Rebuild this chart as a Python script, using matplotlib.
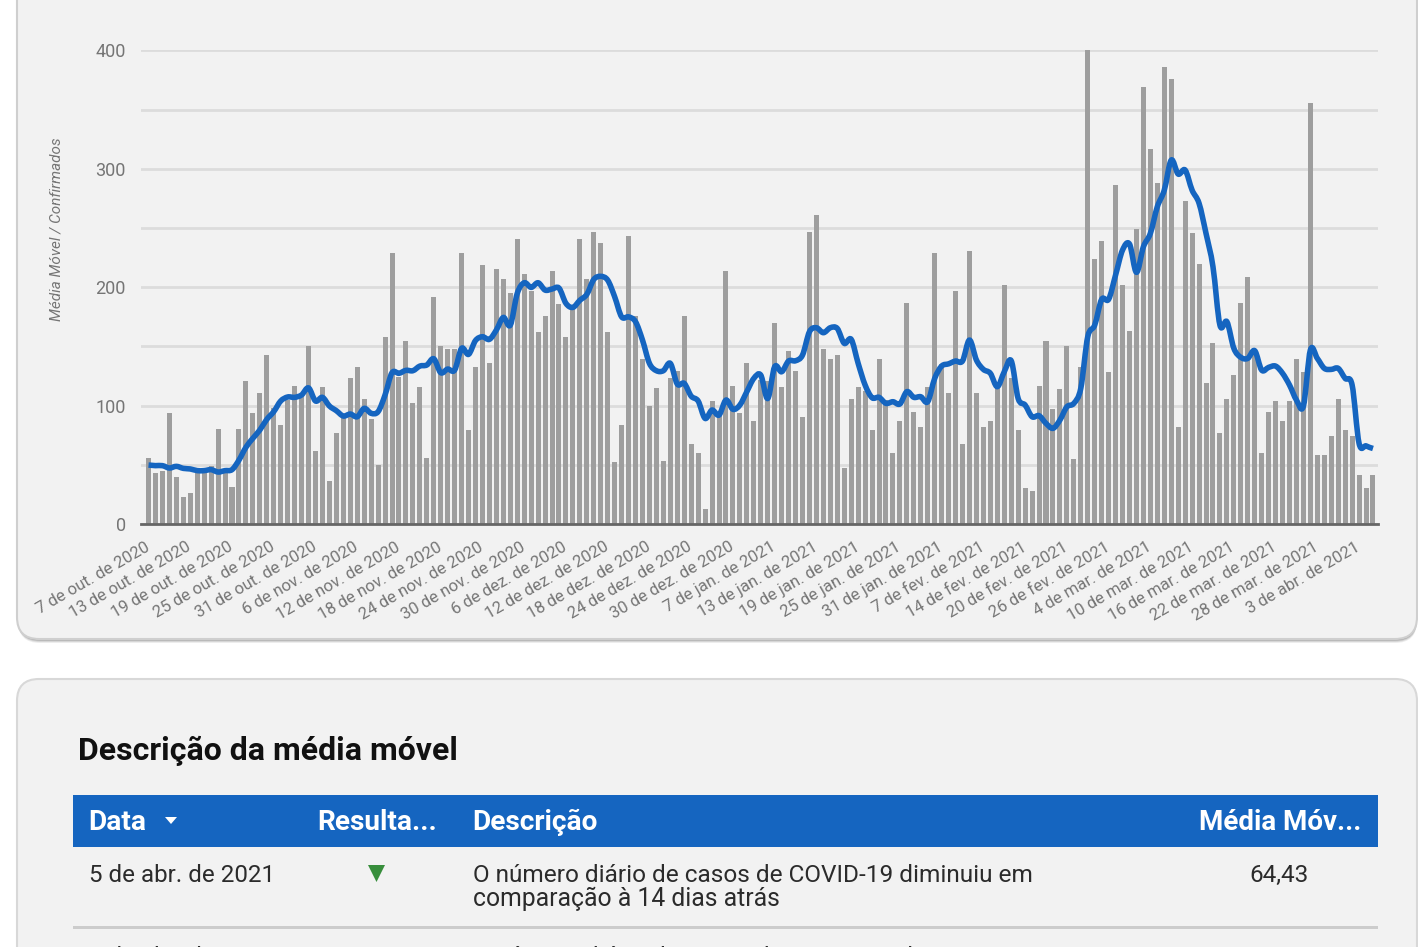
import matplotlib
matplotlib.use('Agg')
import matplotlib.pyplot as plt
from matplotlib.patches import FancyBboxPatch, Rectangle, Polygon, PathPatch
from matplotlib.path import Path
from matplotlib.transforms import ScaledTranslation

plt.rcParams['font.family'] = ['Roboto', 'DejaVu Sans']

W, H = 1418, 947

# barras diarias (casos confirmados)
confirmados = [56, 43, 45, 94, 40, 23, 26, 47, 47, 49, 80, 43, 31, 80, 121, 94, 111, 143, 98, 84,
               105, 117, 108, 150, 62, 116, 36, 77, 91, 123, 133, 106, 89, 50, 158, 229, 124, 155, 102, 116,
               56, 192, 150, 148, 148, 229, 79, 133, 219, 136, 215, 207, 195, 241, 211, 197, 162, 176, 214, 186,
               158, 185, 241, 207, 247, 237, 162, 52, 84, 243, 176, 139, 100, 115, 53, 123, 129, 176, 68, 60,
               13, 104, 94, 214, 117, 94, 136, 87, 122, 121, 170, 116, 146, 129, 90, 247, 261, 148, 139, 143,
               47, 106, 116, 112, 79, 139, 105, 60, 87, 187, 95, 82, 116, 229, 135, 111, 197, 68, 231, 111,
               82, 87, 119, 202, 123, 79, 30, 28, 117, 155, 97, 114, 150, 55, 133, 400, 224, 239, 128, 286,
               202, 163, 249, 369, 317, 288, 386, 376, 82, 273, 246, 220, 119, 153, 77, 106, 126, 187, 209, 147,
               60, 95, 104, 87, 104, 139, 128, 356, 58, 58, 74, 106, 79, 74, 41, 30, 41]

# media movel
media_movel = [49.8, 49.3, 49.3, 47.3, 48.7, 47, 46.5, 45.1, 45.1, 45.9, 43.9, 45.1, 45.9, 54, 64.8, 72.4, 79.4, 88.4, 94.9, 103.9,
               107.3, 107, 109, 115, 103.9, 107, 99.7, 95.7, 91.2, 92.9, 90.6, 97.7, 93.5, 94.9, 109, 127.8, 127.3, 129.8, 129.5, 133.4,
               134.3, 139.6, 127.8, 130.9, 130, 148.4, 143.3, 155, 158.2, 156, 163.9, 174.5, 168, 194.8, 203.8, 199.9, 203.8, 197.6, 198.5, 199.3,
               186.4, 183, 189, 194, 206.6, 209.2, 206, 192, 175, 175, 170.9, 155.4, 135.7, 129.5, 129.5, 135.7, 118.2, 118.8, 108, 103.9,
               89.2, 96.3, 92, 104.7, 96.9, 100.5, 111.8, 123, 125.8, 106, 132.9, 128.6, 137.7, 137.9, 142.7, 162.4, 165.8, 161.6, 165.8, 165.2,
               152.6, 156, 135.7, 117.4, 106.7, 107, 101.9, 103.3, 101.4, 111.8, 107, 107.5, 103.3, 123, 133.4, 135.3, 137.7, 137.7, 155.4, 138.5,
               130.6, 127.3, 116, 128.6, 137.9, 106, 100.5, 90.6, 91.5, 85, 80.8, 87.8, 99, 101.9, 114.6, 158.2, 168, 189.8, 189.8, 210.3,
               231.4, 236.5, 212.6, 234.2, 245.5, 268, 282, 307.4, 295.6, 299, 282, 270.9, 245.5, 217.3, 168, 170.9, 148.4, 140.8, 139.9, 146.4,
               130, 132.3, 133.4, 127.3, 117.4, 104.7, 99.7, 147, 139.9, 131.5, 130.6, 131.5, 123, 117.4, 68.1, 66, 63.8]

datas = ['7 de out. de 2020', '13 de out. de 2020', '19 de out. de 2020', '25 de out. de 2020', '31 de out. de 2020',
         '6 de nov. de 2020', '12 de nov. de 2020', '18 de nov. de 2020', '24 de nov. de 2020', '30 de nov. de 2020',
         '6 de dez. de 2020', '12 de dez. de 2020', '18 de dez. de 2020', '24 de dez. de 2020', '30 de dez. de 2020',
         '7 de jan. de 2021', '13 de jan. de 2021', '19 de jan. de 2021', '25 de jan. de 2021', '31 de jan. de 2021',
         '7 de fev. de 2021', '14 de fev. de 2021', '20 de fev. de 2021', '26 de fev. de 2021', '4 de mar. de 2021',
         '10 de mar. de 2021', '16 de mar. de 2021', '22 de mar. de 2021', '28 de mar. de 2021', '3 de abr. de 2021']
y_ticks = [0, 100, 200, 300, 400]
y_grid = [50, 150, 250, 350]

fig = plt.figure(figsize=(W / 100, H / 100), dpi=100, facecolor='white')

# fundo em pixels
bg = fig.add_axes([0, 0, 1, 1])
bg.set_xlim(0, W)
bg.set_ylim(H, 0)
bg.axis('off')

# cards
for dy, a in [(4, .10), (3, .15), (2, .22), (1, .35)]:
    bg.add_patch(FancyBboxPatch((18, -60), 1399, 699 + dy, boxstyle='round,pad=0,rounding_size=22',
                                fc='#555555', ec='none', alpha=a))
bg.add_patch(FancyBboxPatch((17, -60), 1400, 699, boxstyle='round,pad=0,rounding_size=22',
                            fc='#f2f2f2', ec='#cfcfcf', lw=1.5))
bg.add_patch(FancyBboxPatch((17, 679), 1400, 400, boxstyle='round,pad=0,rounding_size=22',
                            fc='#f2f2f2', ec='#d8d8d8', lw=1.5))

# tabela
bg.add_patch(Rectangle((73, 795), 1305, 52, fc='#1565c0', ec='none'))
bg.add_patch(Rectangle((73, 926), 1305, 2.5, fc='#cccccc', ec='none'))
bg.text(78, 751, 'Descrição da média móvel', fontsize=23, fontweight='bold', color='#111111', va='center')
bg.text(88, 822, 'Data', fontsize=20.2, fontweight='bold', color='white', va='center')
bg.add_patch(Polygon([(165, 817), (177, 817), (171, 824)], fc='white', ec='none'))
bg.text(317, 822, 'Resulta...', fontsize=20.2, fontweight='bold', color='white', va='center')
bg.text(472, 822, 'Descrição', fontsize=20.2, fontweight='bold', color='white', va='center')
bg.text(1361, 822, 'Média Móv...', fontsize=20, fontweight='bold', color='white', va='center', ha='right')
bg.text(89, 875, '5 de abr. de 2021', fontsize=17.4, color='#2b2b2b', va='center')
bg.add_patch(Polygon([(368, 865), (385, 865), (376.5, 882)], fc='#388e3c', ec='none'))
bg.text(473, 875, 'O número diário de casos de COVID-19 diminuiu em', fontsize=17.55, color='#2b2b2b', va='center')
bg.text(473, 899, 'comparação à 14 dias atrás', fontsize=17.8, color='#2b2b2b', va='center')
bg.text(1309, 875, '64,43', fontsize=17.5, color='#2b2b2b', va='center', ha='right')
# proxima linha, cortada pela borda
bg.text(89, 957, '4 de abr. de 2021', fontsize=17.4, color='#2b2b2b', va='center')
bg.text(473, 957, 'O número diário de casos de COVID-19 diminuiu', fontsize=17.55, color='#2b2b2b', va='center')
bg.text(1309, 957, '66,00', fontsize=17.5, color='#2b2b2b', va='center', ha='right')

# grafico: px 141-1378 / y 524-50.5
ax = fig.add_axes([141 / W, 1 - 524 / H, (1378 - 141) / W, (524 - 50.5) / H])
ax.patch.set_alpha(0)
x = list(range(len(confirmados)))
ax.set_xlim(-1.08, 176.72)
ax.set_ylim(0, 400)
ax.set_axisbelow(True)
ax.set_yticks(y_ticks)
ax.set_yticks(y_grid, minor=True)
ax.grid(axis='y', which='both', color='#dcdcdc', lw=2)
ax.bar(x, confirmados, width=0.72, color='#9e9e9e', zorder=2, clip_on=False)

# linha suavizada (curva bezier pelos pontos da media)
n = len(media_movel)
verts = [(x[0], media_movel[0])]
codes = [Path.MOVETO]
for i in range(n - 1):
    y0 = media_movel[max(i - 1, 0)]
    y1 = media_movel[i]
    y2 = media_movel[i + 1]
    y3 = media_movel[min(i + 2, n - 1)]
    verts += [(x[i] + 1 / 3, y1 + (y2 - y0) / 6), (x[i + 1] - 1 / 3, y2 - (y3 - y1) / 6), (x[i + 1], y2)]
    codes += [Path.CURVE4, Path.CURVE4, Path.CURVE4]
ax.add_patch(PathPatch(Path(verts, codes), fill=False, ec='#1565c0', lw=4, zorder=3,
                       joinstyle='round', capstyle='butt', clip_on=False))

for s in ['top', 'right', 'left']:
    ax.spines[s].set_visible(False)
ax.spines['bottom'].set_color('#666666')
ax.spines['bottom'].set_linewidth(2)
ax.spines['bottom'].set_zorder(4)
ax.tick_params(axis='both', which='both', length=0)
ax.tick_params(axis='y', labelsize=13, labelcolor='#757575', pad=11)
ax.set_xticks(x[::6][:len(datas)])
ax.set_xticklabels(datas, rotation=30, ha='right', rotation_mode='anchor', fontsize=12, color='#757575')
ax.tick_params(axis='x', pad=11)
# rotulos 4 px para a esquerda
shift = ScaledTranslation(-4 / 100, 0, fig.dpi_scale_trans)
for lab in ax.get_xticklabels():
    lab.set_transform(lab.get_transform() + shift)
bg.text(57, 229, 'Média Móvel / Confirmados', rotation=90, fontsize=11, style='italic', color='#757575',
        ha='center', va='center')

fig.savefig('out.png', dpi=100)
